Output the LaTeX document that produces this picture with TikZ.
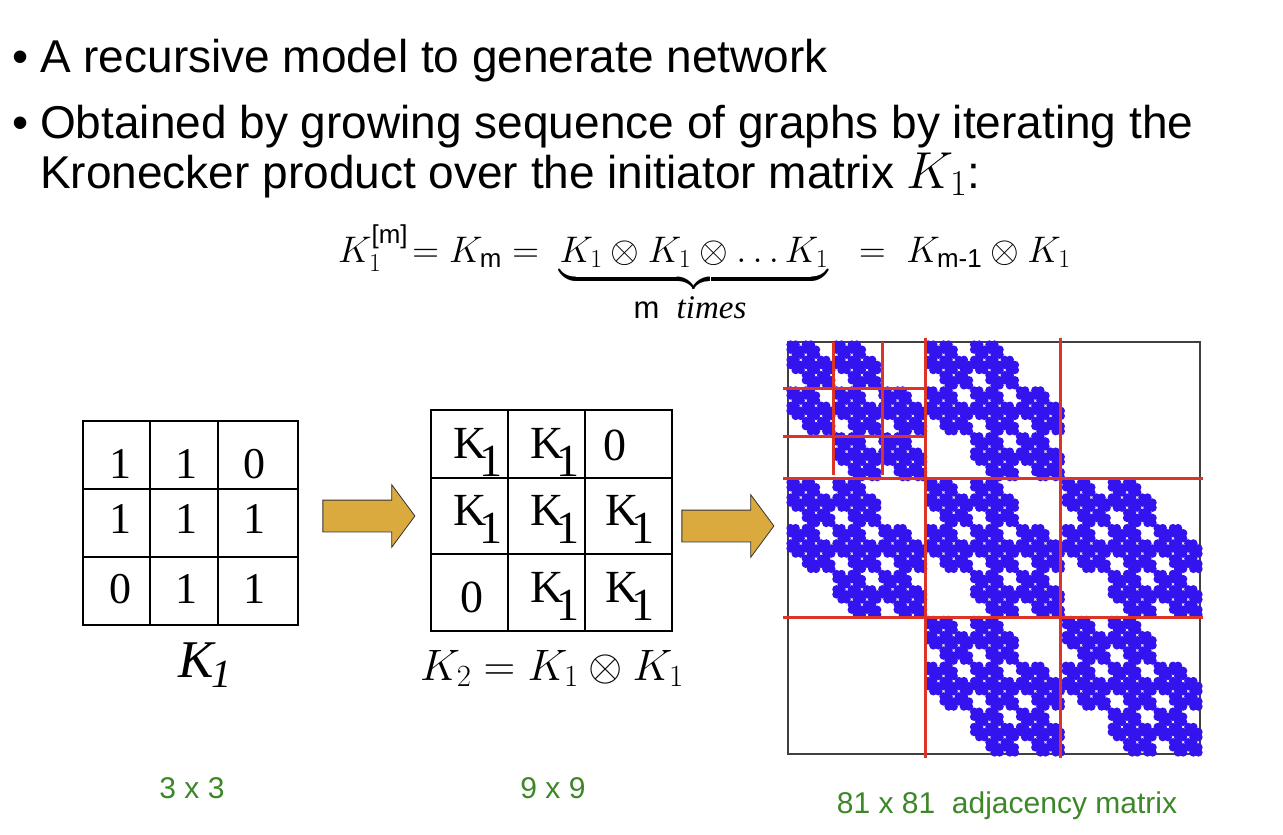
\RequirePackage{fix-cm}
\documentclass[tikz,border=0pt]{standalone}
\usepackage{amsmath}
\usepackage{amssymb}
\usepackage{fontspec}
\setmainfont{Liberation Sans}
\newfontfamily\timesfont{Liberation Serif}
\usepackage{tikz}
\usetikzlibrary{shapes.arrows}

\definecolor{dotblue}{RGB}{52,20,238}
\definecolor{gridred}{RGB}{222,52,40}
\definecolor{arrowgold}{RGB}{218,170,62}
\definecolor{sizegreen}{RGB}{60,135,40}

% nonzero entries of the initiator (row/col)
\def\kone{0/0,0/1,1/0,1/1,1/2,2/1,2/2}
\newcommand{\kcell}{K\kern-7pt\raisebox{-18pt}{1}}

\begin{document}
\begin{tikzpicture}[x=1pt,y=-1pt,
    bullet/.style={anchor=base west,inner sep=0pt,font=\fontsize{46}{40}\selectfont},
    cell/.style={inner sep=0pt,font=\timesfont\fontsize{44}{44}\selectfont},
    kcellnode/.style={anchor=base west,inner sep=0pt,font=\timesfont\fontsize{46}{46}\selectfont},
    size/.style={text=sizegreen,inner sep=0pt,font=\fontsize{30}{30}\selectfont},
    blockarrow/.style={single arrow,draw=black!80,fill=arrowgold,line width=0.8pt,
        minimum height=92pt,inner xsep=0pt,inner ysep=15.5pt,
        single arrow head extend=15.5pt,single arrow tip angle=107},
    gridline/.style={line width=2.5pt},
    redline/.style={gridred,line width=3pt}]
    \useasboundingbox (0,0) rectangle (1283,835);

    % bullets
    \node[bullet] (dotA) at (12,72) {•};
    \node[bullet] (bulA) at (40,72) {A recursive model to generate network};
    \node[bullet] (dotB) at (12,138) {•};
    \node[bullet] (bulB) at (40,138) {Obtained by growing sequence of graphs by iterating the};
    \node[bullet] (bulC) at (40,188) {Kronecker product over the initiator matrix {\fontsize{52}{52}\selectfont$K_1$}:};

    % recursion
    \node[anchor=base west,inner sep=0pt,font=\fontsize{37}{42}\selectfont] (recur) at (338,262)
        {$K_1^{\text{[m]}}\!= K_{\text{m}} = \;\underbrace{K_1\otimes K_1\otimes\ldots K_1\rule[-12pt]{0pt}{1pt}}\;\;=\; K_{\text{m-1}}\otimes K_1$};
    \node[anchor=base,inner sep=0pt,font=\fontsize{31}{31}\selectfont] (times) at (690,318)
        {m\ \ {\timesfont\itshape\fontsize{33}{33}\selectfont times}};

    % initiator K1
    \draw[gridline] (83,421) rectangle (298,625);
    \draw[gridline] (150,421) -- (150,625) (218,421) -- (218,625)
        (83,489) -- (298,489) (83,557) -- (298,557);
    \foreach \r/\c/\v/\x/\y in {1/1/1/120/464,1/2/1/186/464,1/3/0/254/464,
        2/1/1/120/519,2/2/1/186/519,2/3/1/254/519,
        3/1/0/120/589,3/2/1/186/589,3/3/1/254/589}
        \node[cell] (a\r\c) at (\x,\y) {\v};
    \node[anchor=base,inner sep=0pt,font=\timesfont\itshape\fontsize{53}{53}\selectfont] (klab) at (205,677)
        {K\kern-3pt\raisebox{-10pt}{\fontsize{40}{40}\selectfont 1}};

    \node[blockarrow] (arrA) at (363,516) {};

    % K2
    \draw[gridline] (431,410) rectangle (672,631);
    \draw[gridline] (508,410) -- (508,631) (585,410) -- (585,631)
        (431,478) -- (672,478) (431,554) -- (672,554);
    \foreach \r/\c/\x/\y in {1/1/453/458,1/2/530/458,2/1/453/525,2/2/530/525,
        2/3/605/525,3/2/530/602,3/3/605/602}
        \node[kcellnode] (b\r\c) at (\x,\y) {\kcell};
    \node[cell,font=\timesfont\fontsize{46}{46}\selectfont] (b13) at (615,445) {0};
    \node[cell,font=\timesfont\fontsize{46}{46}\selectfont] (b31) at (472,597) {0};
    \node[anchor=base,inner sep=0pt,font=\fontsize{44}{46}\selectfont] (ktwolab) at (552,680)
        {$K_2 = K_1 \otimes K_1$};

    \node[blockarrow] (arrB) at (722,526) {};

    % 81 x 81 adjacency matrix
    \draw[line width=1.3pt,black!75] (788,342) rectangle (1200,754);
    \foreach \ia/\ja in \kone
      \foreach \ib/\jb in \kone
        \foreach \ic/\jc in \kone
          \fill[dotblue] \foreach \id/\jd in \kone
            {({788+(27*\ja+9*\jb+3*\jc+\jd+0.5)*5.0988},{342+(27*\ia+9*\ib+3*\ic+\id+0.5)*5.0988}) circle (4.2pt)};
    \draw[redline] (783,478) -- (1203,478) (783,617) -- (1203,617)
        (925,338) -- (925,758) (1060,338) -- (1060,758);
    \draw[redline] (783,388) -- (925,388) (783,436) -- (925,436)
        (833,342) -- (833,475) (882,342) -- (882,475);

    % sizes
    \node[size] (szA) at (192,788) {3 x 3};
    \node[size] (szB) at (553,788) {9 x 9};
    \node[size] (szC) at (1007,806) {81 x 81\ \ adjacency matrix};
\end{tikzpicture}
\end{document}
